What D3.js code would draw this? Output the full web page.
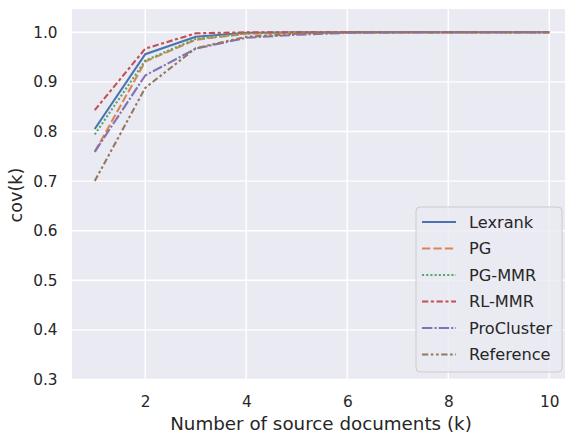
<!DOCTYPE html>
<html lang="en">
	<head>
		<meta charset="utf-8">
		<title>D3: cov(k) line chart</title>
		<script type="text/javascript" src="https://cdn.jsdelivr.net/npm/d3@7"></script>
		<style type="text/css">
			body { margin: 0; background: #fff; }
			text { font-family: "DejaVu Sans", sans-serif; fill: #262626; }
		</style>
	</head>
	<body>
		<script type="text/javascript">

		//Data
		var docs = [1, 2, 3, 4, 5, 6, 7, 8, 9, 10];
		var methods = ["Lexrank", "PG", "PG-MMR", "RL-MMR", "ProCluster", "Reference"];
		var lexrank    = [0.805, 0.956, 0.991, 0.999, 1.000, 1.000, 1.000, 1.000, 1.000, 1.000];
		var pg         = [0.759, 0.941, 0.985, 0.997, 0.999, 1.000, 1.000, 1.000, 1.000, 1.000];
		var pgMmr      = [0.794, 0.943, 0.987, 0.998, 1.000, 1.000, 1.000, 1.000, 1.000, 1.000];
		var rlMmr      = [0.843, 0.967, 0.998, 1.000, 1.000, 1.000, 1.000, 1.000, 1.000, 1.000];
		var proCluster = [0.759, 0.913, 0.967, 0.989, 0.995, 0.999, 1.000, 1.000, 1.000, 1.000];
		var reference  = [0.700, 0.888, 0.968, 0.991, 0.997, 1.000, 1.000, 1.000, 1.000, 1.000];
		var xTicks = [2, 4, 6, 8, 10];
		var yTicks = [0.3, 0.4, 0.5, 0.6, 0.7, 0.8, 0.9, 1.0];

		var series = [lexrank, pg, pgMmr, rlMmr, proCluster, reference];

		//Seaborn "deep" colours and default dash styles
		var colors = ["#4c72b0", "#dd8452", "#55a868", "#c44e52", "#8172b3", "#937860"];
		var dashes = ["", "8.3,3.1", "2.1,2.1", "6.25,2.6,3.1,2.6", "10.4,2.1,2.1,2.1", "6.25,2.6,2.6,2.6,2.6,2.6"];

		//Width and height
		var w = 565;
		var h = 437;
		var pLeft = 72, pRight = 572, pTop = 9, pBottom = 379.5;

		var x = d3.scaleLinear().domain([0.55, 10.45]).range([pLeft, pRight]);
		var y = d3.scaleLinear().domain([0.3, 1.047]).range([pBottom, pTop]);

		var svg = d3.select("body")
					.append("svg")
					.attr("width", w)
					.attr("height", h);

		//Plot background
		svg.append("rect")
			.attr("x", pLeft)
			.attr("y", pTop)
			.attr("width", pRight - pLeft)
			.attr("height", pBottom - pTop)
			.attr("fill", "#eaeaf2");

		//Grid lines
		svg.append("g")
			.selectAll("line")
			.data(xTicks)
			.enter()
			.append("line")
			.attr("x1", function(d) { return x(d); })
			.attr("x2", function(d) { return x(d); })
			.attr("y1", pTop)
			.attr("y2", pBottom)
			.attr("stroke", "#fff")
			.attr("stroke-width", 1.4);

		svg.append("g")
			.selectAll("line")
			.data(yTicks)
			.enter()
			.append("line")
			.attr("x1", pLeft)
			.attr("x2", pRight)
			.attr("y1", function(d) { return y(d); })
			.attr("y2", function(d) { return y(d); })
			.attr("stroke", "#fff")
			.attr("stroke-width", 1.4);

		//Axes (labels only, no lines, seaborn darkgrid)
		var xAxis = svg.append("g")
			.attr("transform", "translate(0," + pBottom + ")")
			.call(d3.axisBottom(x).tickValues(xTicks).tickSize(0).tickPadding(17).tickFormat(d3.format("d")));
		var yAxis = svg.append("g")
			.attr("transform", "translate(" + pLeft + ",0)")
			.call(d3.axisLeft(y).tickValues(yTicks).tickSize(0).tickPadding(14.5).tickFormat(d3.format(".1f")));
		[xAxis, yAxis].forEach(function(a) {
			a.select(".domain").remove();
			a.selectAll("text")
				.attr("fill", "#262626")
				.style("font-family", "DejaVu Sans, sans-serif")
				.style("font-size", "15.3px");
		});

		svg.append("text")
			.attr("x", 321)
			.attr("y", 430)
			.attr("text-anchor", "middle")
			.style("font-size", "18.3px")
			.text("Number of source documents (k)");

		svg.append("text")
			.attr("transform", "translate(22,195) rotate(-90)")
			.attr("text-anchor", "middle")
			.style("font-size", "17.6px")
			.text("cov(k)");

		//Lines
		var line = d3.line()
			.x(function(d, i) { return x(docs[i]); })
			.y(function(d) { return y(d); });

		svg.append("g")
			.selectAll("path")
			.data(series)
			.enter()
			.append("path")
			.attr("d", line)
			.attr("fill", "none")
			.attr("stroke", function(d, i) { return colors[i]; })
			.attr("stroke-width", 2.1)
			.attr("stroke-dasharray", function(d, i) { return dashes[i]; });

		//Legend
		var lg = svg.append("g");
		lg.append("rect")
			.attr("x", 416)
			.attr("y", 207)
			.attr("width", 146)
			.attr("height", 165)
			.attr("rx", 4)
			.attr("fill", "#eaeaf2")
			.attr("fill-opacity", 0.8)
			.attr("stroke", "#cccccc")
			.attr("stroke-width", 1);

		var items = lg.selectAll("g.item")
			.data(methods)
			.enter()
			.append("g")
			.attr("class", "item")
			.attr("transform", function(d, i) { return "translate(0," + (222 + i * 26.5) + ")"; });

		items.append("line")
			.attr("x1", 422)
			.attr("x2", 456)
			.attr("stroke", function(d, i) { return colors[i]; })
			.attr("stroke-width", 2.1)
			.attr("stroke-dasharray", function(d, i) { return dashes[i]; });

		items.append("text")
			.attr("x", 469)
			.attr("dy", "0.35em")
			.style("font-size", "16.2px")
			.text(function(d) { return d; });

		</script>
	</body>
</html>
